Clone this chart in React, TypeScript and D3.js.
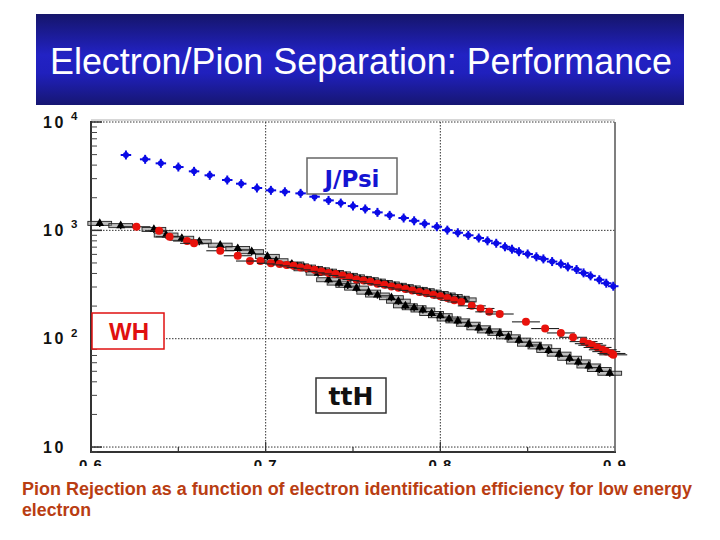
import React from 'react';
import * as d3 from 'd3';

// J/Psi sample: pion rejection vs electron efficiency
const jpsiEff = [0.620, 0.631, 0.640, 0.650, 0.659, 0.668, 0.678, 0.686, 0.695, 0.703, 0.711, 0.720, 0.728, 0.736, 0.743, 0.750, 0.757, 0.764, 0.771, 0.779, 0.785, 0.791, 0.798, 0.804, 0.810, 0.816, 0.822, 0.827, 0.832, 0.837, 0.841, 0.845, 0.850, 0.855, 0.859, 0.864, 0.869, 0.873, 0.878, 0.882, 0.886, 0.891, 0.895, 0.899];
const jpsiRej = [4960, 4525, 4155, 3840, 3505, 3220, 2915, 2695, 2460, 2340, 2270, 2195, 2045, 1890, 1785, 1675, 1575, 1465, 1375, 1300, 1225, 1150, 1080, 1005, 950, 900, 850, 800, 760, 705, 670, 635, 605, 570, 545, 515, 490, 460, 435, 405, 380, 350, 325, 305];

// ttH sample
const tthEff = [0.605, 0.617, 0.636, 0.643, 0.652, 0.662, 0.674, 0.684, 0.692, 0.701, 0.706, 0.715, 0.723, 0.730, 0.736, 0.742, 0.747, 0.752, 0.759, 0.764, 0.772, 0.776, 0.780, 0.785, 0.790, 0.795, 0.800, 0.805, 0.810, 0.816, 0.822, 0.828, 0.834, 0.839, 0.845, 0.851, 0.857, 0.862, 0.868, 0.874, 0.879, 0.885, 0.891, 0.897];
const tthRej = [1160, 1105, 1020, 905, 845, 785, 730, 680, 635, 575, 524, 489, 442, 403, 350, 326, 311, 293, 269, 253, 239, 222, 201, 193, 184, 171, 163, 152, 146, 136, 126, 118, 112, 104, 97, 89, 84, 78, 72, 66, 61, 56, 52, 48];

// fine binned black points under the WH band
const bandEff = [0.714, 0.718, 0.722, 0.726, 0.730, 0.734, 0.738, 0.742, 0.746, 0.750, 0.754, 0.758, 0.762, 0.766, 0.770, 0.774, 0.778, 0.782, 0.786, 0.790, 0.794, 0.798, 0.802, 0.806, 0.810, 0.814];
const bandRej = [482, 470, 458, 445, 432, 420, 408, 396, 384, 372, 360, 350, 340, 330, 320, 311, 302, 294, 285, 277, 269, 261, 253, 245, 236, 228];

// WH sample
const whEff = [0.626, 0.639, 0.645, 0.655, 0.659, 0.674, 0.684, 0.691, 0.697, 0.703, 0.708, 0.712, 0.716, 0.720, 0.724, 0.728, 0.732, 0.736, 0.740, 0.744, 0.748, 0.752, 0.756, 0.760, 0.764, 0.768, 0.772, 0.776, 0.780, 0.784, 0.788, 0.792, 0.796, 0.800, 0.804, 0.808, 0.812, 0.818, 0.823, 0.828, 0.834, 0.849, 0.860, 0.869, 0.876, 0.882, 0.885, 0.887, 0.890, 0.893, 0.895, 0.898, 0.899];
const whRej = [1080, 992, 873, 797, 759, 648, 583, 521, 521, 496, 490, 480, 470, 455, 446, 432, 418, 405, 396, 383, 370, 352, 344, 335, 322, 314, 303, 295, 287, 279, 270, 262, 254, 246, 237, 226, 218, 201, 190, 177, 169, 143, 124, 113, 103, 94, 90, 87, 83, 79, 76, 73, 71];

const yDecades = [10, 100, 1000, 10000];
const xTicks = [0.6, 0.7, 0.8, 0.9];
const xMinorTicks = [0.65, 0.75, 0.85];

const titleText = 'Electron/Pion Separation: Performance';
const captionLines = ['Pion Rejection as a function of electron identification efficiency for low energy', 'electron'];

export default function App() {
  const left = 91, right = 615, top = 122, bottom = 452;
  const x = d3.scaleLinear().domain([0.6, 0.9]).range([left, right]);
  const y = d3.scaleLog().domain([9, 10000]).range([bottom, top]);

  const minorY: number[] = [];
  [10, 100, 1000].forEach((d) => {
    for (let k = 2; k <= 9; k++) minorY.push(d * k);
  });
  minorY.push(9);

  const tri = d3.symbol(d3.symbolTriangle, 34)() as string;
  const triSmall = d3.symbol(d3.symbolTriangle, 24)() as string;

  const errBox = (ex: number, ry: number, dx: number, key: string) => (
    <rect key={key} x={x(ex - dx)} y={y(ry) - 2} width={x(ex + dx) - x(ex - dx)} height={4}
      fill="#8a8a8a" fillOpacity={0.55} stroke="#222" strokeWidth={0.9} />
  );

  return (
    <svg width={720} height={540} style={{ position: 'absolute', left: 0, top: 0, background: '#fff' }}>
      <defs>
        <linearGradient id="banner" x1="0" y1="0" x2="0" y2="1">
          <stop offset="0%" stopColor="#15156a" />
          <stop offset="45%" stopColor="#2222c4" />
          <stop offset="65%" stopColor="#2020bd" />
          <stop offset="100%" stopColor="#161672" />
        </linearGradient>
        <clipPath id="xlab">
          <rect x={0} y={0} width={720} height={466} />
        </clipPath>
      </defs>

      {/* title banner */}
      <rect x={36} y={14} width={648} height={91} fill="url(#banner)" />
      <text x={50} y={74} fontFamily="Liberation Sans, Arial, sans-serif" fontSize={37} fill="#fff"
        textLength={622} lengthAdjust="spacingAndGlyphs">{titleText}</text>

      {/* grid */}
      {yDecades.map((d) => (
        <line key={'gy' + d} x1={left} x2={right} y1={y(d)} y2={y(d)} stroke="#333" strokeWidth={1} strokeDasharray="1.5,1.5" />
      ))}
      {[0.7, 0.8].map((d) => (
        <line key={'gx' + d} x1={x(d)} x2={x(d)} y1={top} y2={bottom} stroke="#333" strokeWidth={1} strokeDasharray="1.5,1.5" />
      ))}

      {/* frame */}
      <line x1={left} x2={left} y1={top - 1} y2={bottom + 1} stroke="#333" strokeWidth={2} />
      <line x1={left - 1} x2={right + 1} y1={bottom} y2={bottom} stroke="#333" strokeWidth={2} />
      <line x1={right} x2={right} y1={top} y2={bottom} stroke="#555" strokeWidth={1.5} />
      <line x1={left} x2={right} y1={top - 2} y2={top - 2} stroke="#999" strokeWidth={0.8} />

      {/* ticks */}
      {yDecades.map((d) => (
        <line key={'ty' + d} x1={left} x2={left + 11} y1={y(d)} y2={y(d)} stroke="#333" strokeWidth={1.5} />
      ))}
      {minorY.map((d) => (
        <line key={'my' + d} x1={left} x2={left + 6} y1={y(d)} y2={y(d)} stroke="#444" strokeWidth={1} />
      ))}
      {xMinorTicks.map((d) => (
        <line key={'mx' + d} x1={x(d)} x2={x(d)} y1={bottom} y2={bottom - 5} stroke="#333" strokeWidth={1.2} />
      ))}
      {[0.7, 0.8].map((d) => (
        <line key={'tx' + d} x1={x(d)} x2={x(d)} y1={bottom} y2={bottom - 10} stroke="#333" strokeWidth={1.2} />
      ))}

      {/* y labels */}
      {yDecades.map((d) => {
        const e = Math.round(Math.log10(d));
        const yy = y(d);
        return (
          <g key={'ly' + d} fontFamily="Liberation Sans, Arial, sans-serif" fontWeight="bold" fill="#111">
            <text x={43} y={yy + 5.5} fontSize={16} letterSpacing={2.5}>10</text>
            {e > 1 && <text x={71} y={yy - 2} fontSize={11.5}>{e}</text>}
          </g>
        );
      })}

      {/* x labels, cut off at the bottom as in the source */}
      <g clipPath="url(#xlab)" fontFamily="Liberation Sans, Arial, sans-serif" fontWeight="bold" fontSize={15} fill="#111">
        {xTicks.map((d) => (
          <text key={'lx' + d} x={x(d)} y={470} textAnchor="middle" letterSpacing={1}>{d.toFixed(1)}</text>
        ))}
      </g>

      {/* J/Psi */}
      {jpsiEff.map((e, i) => (
        <g key={'jp' + i}>
          <line x1={x(e - 0.003)} x2={x(e + 0.003)} y1={y(jpsiRej[i])} y2={y(jpsiRej[i])} stroke="#0a0ae6" strokeWidth={2} />
          <line x1={x(e)} x2={x(e)} y1={y(jpsiRej[i] * 1.1)} y2={y(jpsiRej[i] / 1.1)} stroke="#0a0ae6" strokeWidth={2} />
          <circle cx={x(e)} cy={y(jpsiRej[i])} r={3} fill="#0a0ae6" />
        </g>
      ))}

      {/* ttH */}
      {tthEff.map((e, i) => errBox(e, tthRej[i], 0.0068, 'tb' + i))}
      {tthEff.map((e, i) => (
        <g key={'tt' + i}>
          <line x1={x(e)} x2={x(e)} y1={y(tthRej[i] * 1.08)} y2={y(tthRej[i] / 1.08)} stroke="#000" strokeWidth={1.4} />
          <path d={tri} transform={`translate(${x(e)},${y(tthRej[i])})`} fill="#000" />
        </g>
      ))}

      {/* fine binned band */}
      {bandEff.map((e, i) => errBox(e, bandRej[i], 0.0065, 'bb' + i))}
      {bandEff.map((e, i) => (
        <g key={'bd' + i}>
          <line x1={x(e)} x2={x(e)} y1={y(bandRej[i] * 1.05)} y2={y(bandRej[i] / 1.05)} stroke="#000" strokeWidth={1.4} />
          <path d={triSmall} transform={`translate(${x(e)},${y(bandRej[i])})`} fill="#000" />
        </g>
      ))}

      {/* WH */}
      {whEff.map((e, i) => (
        <g key={'wh' + i}>
          <line x1={x(e - 0.008)} x2={x(e + 0.008)} y1={y(whRej[i])} y2={y(whRej[i])} stroke="#222" strokeWidth={1.1} />
          <line x1={x(e)} x2={x(e)} y1={y(whRej[i] * 1.07)} y2={y(whRej[i] / 1.07)} stroke="#222" strokeWidth={1.1} />
          <circle cx={x(e)} cy={y(whRej[i])} r={4} fill="#e8120c" />
        </g>
      ))}

      {/* sample labels */}
      <rect x={307} y={158} width={90} height={36} fill="#fff" stroke="#666" strokeWidth={1.5} />
      <text x={352} y={187} textAnchor="middle" fontFamily="DejaVu Sans, sans-serif" fontWeight="bold" fontSize={23} fill="#1414d2">J/Psi</text>

      <rect x={92} y={313} width={72} height={36} fill="#fff" stroke="#e01010" strokeWidth={1.5} />
      <text x={129} y={340} textAnchor="middle" fontFamily="Liberation Sans, Arial, sans-serif" fontWeight="bold" fontSize={24} fill="#e01010">WH</text>

      <rect x={316} y={378} width={70} height={35} fill="#fff" stroke="#333" strokeWidth={1.5} />
      <text x={351} y={405} textAnchor="middle" fontFamily="DejaVu Sans, sans-serif" fontWeight="bold" fontSize={25} fill="#111">ttH</text>

      {/* caption */}
      <text x={22} y={495} fontFamily="Liberation Sans, Arial, sans-serif" fontWeight="bold" fontSize={17.5} fill="#b93d12"
        textLength={670} lengthAdjust="spacingAndGlyphs">{captionLines[0]}</text>
      <text x={22} y={516} fontFamily="Liberation Sans, Arial, sans-serif" fontWeight="bold" fontSize={17.5} fill="#b93d12"
        textLength={69} lengthAdjust="spacingAndGlyphs">{captionLines[1]}</text>
    </svg>
  );
}
